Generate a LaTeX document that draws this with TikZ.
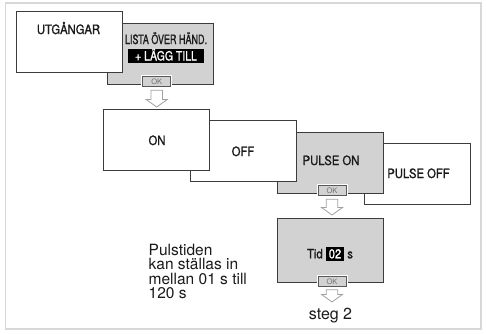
\documentclass[tikz,border=0pt]{standalone}
\usepackage{fontspec}
\setmainfont{TeX Gyre Heros}
\newfontfamily\condfont[FakeStretch=0.88,FakeBold=1.3]{TeX Gyre Heros}
\usetikzlibrary{calc}
\definecolor{boxgray}{HTML}{D2D2D2}
\definecolor{edge}{HTML}{3C3C3C}
\definecolor{framegray}{HTML}{D8D8D8}
\definecolor{arrowgray}{HTML}{A0A0A0}
\definecolor{oktext}{HTML}{707070}
\definecolor{ink}{HTML}{1A1A1A}

\tikzset{
  panel/.style={draw=edge, line width=0.9pt, fill=white, minimum width=106pt,
    minimum height=61pt, inner sep=0pt, anchor=north west},
  graypanel/.style={panel, fill=boxgray},
  lbl/.style={font=\condfont\fontsize{12.8}{14}\selectfont, inner sep=0pt,
    anchor=base, text=ink},
  okbtn/.style={draw=edge!85, line width=0.6pt, fill=boxgray, minimum width=28pt,
    minimum height=10pt, inner sep=0pt, font=\fontsize{7.5}{8}\selectfont,
    text=oktext, preaction={draw=white, line width=3pt}},
  blockarrow/.style={draw=arrowgray, line width=0.8pt, fill=white, line join=miter},
  inverse/.style={fill=black, text=white, font=\condfont\fontsize{12.8}{14}\selectfont,
    text height=9pt, text depth=0pt, inner ysep=2.5pt, inner xsep=0pt,
    minimum width=76pt},
  note/.style={font=\fontsize{15.5}{14.5}\selectfont, text=ink, inner sep=0pt,
    align=left, anchor=north west},
}

% hollow block arrow drawn from node #1 down to node #2
\newcommand\hollowarr[4]{%
  \coordinate (hs) at ($(#1.south)+(0,#3)$);
  \coordinate (ht) at ($(#1.south |- #2.north)+(0,-#4)$);
  \draw[blockarrow] ($(hs)+(-5.8,0)$) -- ($(hs)+(5.8,0)$) -- ($(ht)+(5.8,-7.5)$)
    -- ($(ht)+(10.5,-7.5)$) -- (ht) -- ($(ht)+(-10.5,-7.5)$)
    -- ($(ht)+(-5.8,-7.5)$) -- cycle;
}

\begin{document}
\begin{tikzpicture}[x=1pt, y=-1pt]
\useasboundingbox (0,0) rectangle (486,333);
\fill[white] (0,0) rectangle (486,333);
\draw[draw=framegray, line width=1.5pt] (5.5,3) rectangle (481,329);

% top pair
\node[graypanel] (lista) at (107,23) {};
\node[panel] (utg) at (16,11) {};
\node[lbl] (utgtxt) at (68.5,34) {UTGÅNGAR};
\node[lbl] (listatxt) at (166,44) {\scalebox{0.8}[1]{LISTA ÖVER HÄND.}};
\node[inverse] (add) at (166,56) {\scalebox{0.93}[1]{+ LÄGG TILL}};
\node[okbtn] (ok1) at (156.7,81.7) {OK};

% options row
\node[panel] (pulseoff) at (364,143) {};
\node[graypanel] (pulseon) at (277,132) {};
\node[panel] (off) at (190,120) {};
\node[panel] (on) at (103,109) {};
\node[lbl] (ontxt) at (157,145) {ON};
\node[lbl] (offtxt) at (243,156) {OFF};
\node[lbl] (pulseontxt) at (331,165) {PULSE ON};
\node[lbl] (pulseofftxt) at (418.5,178) {PULSE OFF};
\node[okbtn] (ok2) at (332,190.5) {OK};

% time setting
\node[graypanel, minimum height=64pt] (tid) at (277,218) {};
\node[lbl] (tidtxt) at (330,258.3) {Tid {\setlength\fboxsep{0pt}\colorbox{black}{\rule[-2.4pt]{0pt}{13.3pt}\hspace{2.9pt}\textcolor{white}{02}\hspace{2.9pt}}} s};
\node[okbtn] (ok3) at (332,281.7) {OK};

\node[font=\fontsize{16}{18}\selectfont, text=ink, anchor=base, inner sep=0pt] (steg) at (330.5,319.5) {steg 2};

\node[note] (pulsnote) at (148.5,243.7) {Pulstiden\\kan ställas in\\mellan 01 s till\\120 s};

% connectors
\hollowarr{ok1}{on}{3.3}{2}
\hollowarr{ok2}{tid}{3.5}{3}
\hollowarr{ok3}{steg}{2.8}{6}
\end{tikzpicture}
\end{document}
